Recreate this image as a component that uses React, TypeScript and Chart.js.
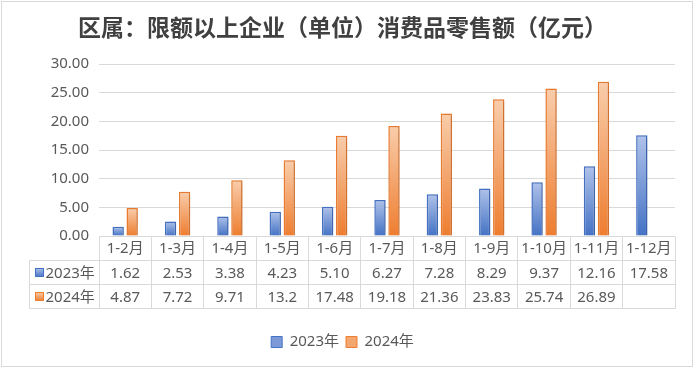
import { useEffect, useRef } from 'react';
import { Chart, registerables } from 'chart.js';

Chart.register(...registerables);

const chartTitle = '区属：限额以上企业（单位）消费品零售额（亿元）';
const categories = ['1-2月', '1-3月', '1-4月', '1-5月', '1-6月', '1-7月', '1-8月', '1-9月', '1-10月', '1-11月', '1-12月'];
const seriesNames = ['2023年', '2024年'];
const values2023 = ['1.62', '2.53', '3.38', '4.23', '5.10', '6.27', '7.28', '8.29', '9.37', '12.16', '17.58'];
const values2024 = ['4.87', '7.72', '9.71', '13.2', '17.48', '19.18', '21.36', '23.83', '25.74', '26.89', ''];
const yMin = 0;
const yMax = 30;
const yStep = 5;

const FONT = "'Noto Sans', 'Noto Sans CJK SC', sans-serif";
const TEXT = '#595959';
const GRID = '#d9d9d9';

const BLUE = { top: '#afc2ea', bottom: '#4472c4', border: '#4472c4', solid: '#7d9ad8' };
const ORANGE = { top: '#f9cdab', bottom: '#ee7d2f', border: '#ed7d31', solid: '#f3a66e' };
const palette = [BLUE, ORANGE];

const toNum = (s: string) => (s === '' ? null : Number(s));

const barGradient = (p: typeof BLUE) => (c: any) => {
  if (c.type !== 'data') return p.solid;
  const chart = c.chart;
  if (!chart.chartArea) return p.solid;
  const v = c.parsed ? c.parsed.y : Number(c.raw);
  if (v == null || isNaN(v)) return p.solid;
  const y = chart.scales.y;
  const yt = y.getPixelForValue(v);
  const yb = y.getPixelForValue(0);
  if (!(yb > yt)) return p.solid;
  const g = chart.ctx.createLinearGradient(0, yt, 0, yb);
  g.addColorStop(0, p.top);
  g.addColorStop(1, p.bottom);
  return g;
};

const framePlugin = {
  id: 'frame',
  beforeDraw(chart: any) {
    const { ctx, width, height } = chart;
    ctx.save();
    ctx.fillStyle = '#ffffff';
    ctx.fillRect(0, 0, width, height);
    ctx.strokeStyle = GRID;
    ctx.lineWidth = 1;
    ctx.strokeRect(1.5, 1.5, width - 3, height - 3);
    ctx.restore();
  },
};

const shadowPlugin = {
  id: 'barShadow',
  beforeDatasetsDraw(chart: any) {
    const ctx = chart.ctx;
    ctx.save();
    ctx.shadowColor = 'rgba(0,0,0,0.16)';
    ctx.shadowBlur = 4;
    ctx.shadowOffsetX = 2;
    ctx.shadowOffsetY = 1;
  },
  afterDatasetsDraw(chart: any) {
    chart.ctx.restore();
  },
};

const tablePlugin = {
  id: 'dataTable',
  afterDraw(chart: any) {
    const { ctx, chartArea, scales } = chart;
    const x = scales.x;
    const n = categories.length;
    const colW = (chartArea.right - chartArea.left) / n;
    const top = chartArea.bottom;
    const rowH = 24.2;
    const tableLeft = 29.5;
    const rows = [top, top + rowH, top + rowH * 2, top + rowH * 3];
    const crisp = (v: number) => Math.round(v - 0.5) + 0.5;

    ctx.save();
    ctx.strokeStyle = GRID;
    ctx.lineWidth = 1;
    ctx.beginPath();
    for (let k = 0; k <= n; k++) {
      const bx = crisp(chartArea.left + k * colW);
      ctx.moveTo(bx, crisp(rows[0]));
      ctx.lineTo(bx, crisp(rows[3]));
    }
    for (let r = 1; r <= 3; r++) {
      ctx.moveTo(crisp(tableLeft), crisp(rows[r]));
      ctx.lineTo(crisp(chartArea.right), crisp(rows[r]));
    }
    ctx.moveTo(crisp(tableLeft), crisp(rows[1]));
    ctx.lineTo(crisp(tableLeft), crisp(rows[3]));
    ctx.stroke();

    ctx.fillStyle = TEXT;
    ctx.font = `15px ${FONT}`;
    ctx.textAlign = 'center';
    ctx.textBaseline = 'middle';
    categories.forEach((c, i) => {
      const cx = x.getPixelForValue(i);
      ctx.fillText(c, cx, rows[0] + rowH / 2 + 1);
    });
    const texts = [values2023, values2024];
    texts.forEach((arr, r) => {
      arr.forEach((t, i) => {
        if (t === '') return;
        const cx = x.getPixelForValue(i);
        ctx.fillText(t, cx, rows[r + 1] + rowH / 2 + 1);
      });
    });

    seriesNames.forEach((name, r) => {
      const cy = rows[r + 1] + rowH / 2;
      const p = palette[r];
      const bx = 35;
      const by = Math.round(cy - 4.5);
      const g = ctx.createLinearGradient(0, by, 0, by + 9);
      g.addColorStop(0, p.top);
      g.addColorStop(1, p.bottom);
      ctx.fillStyle = g;
      ctx.fillRect(bx, by, 9, 9);
      ctx.strokeStyle = p.border;
      ctx.strokeRect(bx + 0.5, by + 0.5, 8, 8);
      ctx.fillStyle = TEXT;
      ctx.textAlign = 'left';
      ctx.fillText(name, 45.5, cy + 1);
    });
    ctx.restore();
  },
};

export default function App() {
  const ref = useRef<HTMLCanvasElement | null>(null);

  useEffect(() => {
    if (!ref.current) return;
    const chart = new Chart(ref.current, {
      type: 'bar',
      data: {
        labels: categories,
        datasets: [
          {
            label: seriesNames[0],
            data: values2023.map(toNum),
            backgroundColor: barGradient(BLUE),
            borderColor: BLUE.border,
            borderWidth: 1.5,
            categoryPercentage: 0.535,
            barPercentage: 0.81,
          },
          {
            label: seriesNames[1],
            data: values2024.map(toNum),
            backgroundColor: barGradient(ORANGE),
            borderColor: ORANGE.border,
            borderWidth: 1.5,
            categoryPercentage: 0.535,
            barPercentage: 0.81,
          },
        ],
      },
      options: {
        responsive: false,
        animation: false,
        layout: { padding: { left: 10, right: 19, top: 0, bottom: 8.5 } },
        plugins: {
          title: {
            display: true,
            text: chartTitle,
            color: '#404040',
            font: { family: "'Noto Sans CJK SC', sans-serif", size: 23, weight: 'bold' },
            padding: { top: 13, bottom: 23.4 },
          },
          legend: {
            position: 'bottom',
            labels: {
              boxWidth: 11,
              boxHeight: 11,
              padding: 7,
              color: TEXT,
              font: { family: FONT, size: 15 },
              generateLabels: () =>
                seriesNames.map((name, i) => ({
                  text: name,
                  fillStyle: palette[i].solid,
                  strokeStyle: palette[i].border,
                  lineWidth: 1,
                  fontColor: TEXT,
                  datasetIndex: i,
                  hidden: false,
                })),
            },
          },
          tooltip: { enabled: false },
        },
        scales: {
          x: {
            grid: { display: false },
            border: { display: false },
            ticks: { display: false },
            afterFit: (s: any) => {
              s.height = 91.5;
            },
          },
          y: {
            min: yMin,
            max: yMax,
            ticks: {
              stepSize: yStep,
              padding: 10,
              color: TEXT,
              font: { family: FONT, size: 15 },
              callback: (v: any) => Number(v).toFixed(2),
            },
            grid: { color: GRID, drawTicks: false },
            border: { display: false },
            afterFit: (s: any) => {
              s.width = 89;
            },
          },
        },
      },
      plugins: [framePlugin, shadowPlugin, tablePlugin],
    });
    return () => chart.destroy();
  }, []);

  return (
    <div style={{ position: 'fixed', left: 0, top: 0, width: 694, height: 368, background: '#fff' }}>
      <canvas ref={ref} width={694} height={368} style={{ display: 'block', width: 694, height: 368 }} />
    </div>
  );
}
